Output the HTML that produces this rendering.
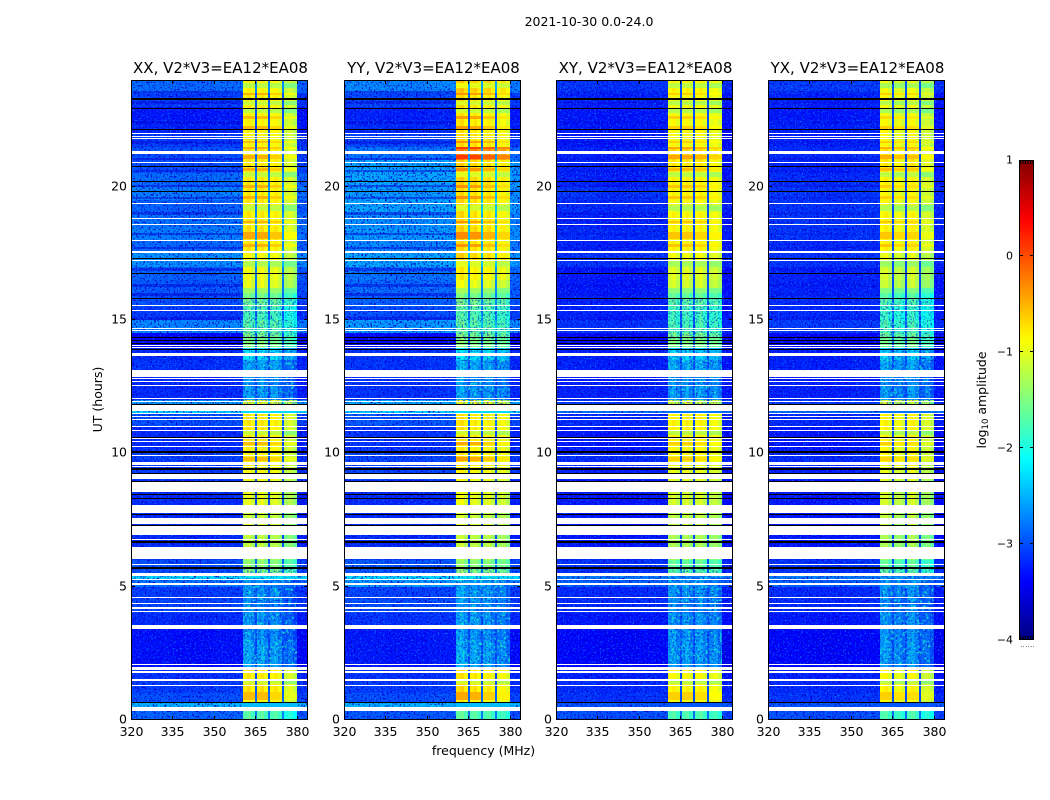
<!DOCTYPE html>
<html lang="en">
<head>
<meta charset="utf-8">
<title>2021-10-30 0.0-24.0 amplitude waterfall</title>
<style>
html,body{margin:0;padding:0;background:#fff;width:1050px;height:800px;overflow:hidden}
svg{display:block}
text{font-family:"DejaVu Sans","Liberation Sans",sans-serif;fill:#000}
</style>
</head>
<body>
<svg id="fig" xmlns="http://www.w3.org/2000/svg" width="1050" height="800" viewBox="0 0 1050 800">
  <defs>
    <filter id="speck-dark" x="0" y="0" width="100%" height="100%" color-interpolation-filters="sRGB">
      <feTurbulence type="fractalNoise" baseFrequency="0.55" numOctaves="2" seed="4"/>
      <feColorMatrix type="matrix" values="0 0 0 0 0  0 0 0 0 0  0 0 0 0 0.8  5 0 0 0 -2.6"/>
    </filter>
    <filter id="speck-light" x="0" y="0" width="100%" height="100%" color-interpolation-filters="sRGB">
      <feTurbulence type="fractalNoise" baseFrequency="0.6" numOctaves="2" seed="11"/>
      <feColorMatrix type="matrix" values="0 0 0 0 0.05  0 0 0 0 0.55  0 0 0 0 1  0 5 0 0 -2.85"/>
    </filter>
    <filter id="speck-cyan" x="0" y="0" width="100%" height="100%" color-interpolation-filters="sRGB">
      <feTurbulence type="fractalNoise" baseFrequency="0.35" numOctaves="2" seed="23"/>
      <feColorMatrix type="matrix" values="0 0 0 0 0.1  0 0 0 0 0.95  0 0 0 0 0.8  0 0 5 0 -2.6"/>
    </filter>
    <linearGradient id="jet-gradient" x1="0" y1="1" x2="0" y2="0"></linearGradient>
  </defs>
  <text x="589" y="26" font-size="12.5" text-anchor="middle">2021-10-30 0.0-24.0</text>
  <text x="483.5" y="755" font-size="12.5" text-anchor="middle">frequency (MHz)</text>
  <text transform="translate(102,399.5) rotate(-90)" font-size="12.5" text-anchor="middle">UT (hours)</text>
  <text transform="translate(986,400) rotate(-90)" font-size="12.5" text-anchor="middle">log<tspan font-size="8.5" dy="2">10</tspan><tspan dy="-2"> amplitude</tspan></text>
  <g id="panels"></g>
  <g id="colorbar"></g>
</svg>
<script>
// ---- chart data: half-hour time bins from 0 UT upward, values in log10 amplitude ----
const panelNames = ['XX', 'YY', 'XY', 'YX'];
const baselineLabel = 'V2*V3=EA12*EA08';
const xTickLabels = [320, 335, 350, 365, 380];
const yTickLabels = [0, 5, 10, 15, 20];
const colorbarTickLabels = [-4, -3, -2, -1, 0, 1];

const lowXX = [-2.9,-3.0,-3.1,-3.15,-3.35,-3.35,-3.35,-3.2,-3.05,-3.1,-2.8,-3.0,-3.1,-3.2,-3.2,-3.2,-3.2,-3.2,-3.1,-3.1,-3.2,-3.2,-3.0,-2.6,-3.2,-3.2,-3.15,-3.2,-3.4,-2.7,-3.1,-3.0,-2.95,-2.9,-2.65,-2.85,-2.75,-2.8,-2.9,-2.75,-2.85,-3.0,-3.0,-3.1,-3.25,-3.3,-3.1,-2.85];
const lowYY = [-2.95,-3.0,-3.1,-3.15,-3.3,-3.3,-3.3,-3.15,-3.0,-3.05,-2.6,-2.95,-3.1,-3.2,-3.2,-3.2,-3.2,-3.2,-3.05,-3.05,-3.15,-3.15,-2.95,-2.5,-3.15,-3.15,-3.15,-3.15,-3.4,-2.6,-3.0,-2.9,-2.85,-2.8,-2.55,-2.7,-2.6,-2.65,-2.55,-2.6,-2.55,-2.55,-2.8,-3.05,-3.2,-3.25,-3.05,-2.7];
const lowXY = [-3.0,-3.15,-3.2,-3.25,-3.4,-3.4,-3.4,-3.3,-3.2,-3.2,-2.9,-3.15,-3.2,-3.3,-3.3,-3.3,-3.3,-3.3,-3.25,-3.2,-3.3,-3.3,-3.2,-3.1,-3.25,-3.25,-3.25,-3.25,-3.4,-3.15,-3.25,-3.25,-3.3,-3.3,-3.15,-3.25,-3.2,-3.25,-3.2,-3.15,-3.25,-3.25,-3.25,-3.3,-3.3,-3.3,-3.25,-3.15];
const lowYX = [-3.0,-3.15,-3.2,-3.25,-3.4,-3.4,-3.4,-3.3,-3.2,-3.2,-2.9,-3.15,-3.2,-3.3,-3.3,-3.3,-3.3,-3.3,-3.25,-3.2,-3.3,-3.3,-3.2,-3.1,-3.25,-3.25,-3.25,-3.25,-3.4,-3.1,-3.2,-3.2,-3.25,-3.25,-3.15,-3.2,-3.15,-3.15,-3.15,-3.15,-3.2,-3.25,-3.2,-3.25,-3.25,-3.3,-3.25,-3.1];

const bandXX = [-1.75,-0.9,-0.8,-0.85,-2.6,-2.6,-2.7,-2.7,-2.75,-2.7,-2.7,-1.5,-1.35,-1.25,-1.15,-1.2,-1.05,-1.05,-0.95,-0.9,-0.9,-0.85,-0.85,-1.0,-2.65,-2.7,-2.6,-2.3,-1.55,-1.7,-1.8,-1.6,-1.05,-1.0,-0.95,-0.85,-0.8,-0.85,-0.85,-0.85,-0.85,-0.85,-0.85,-0.9,-0.9,-0.9,-0.85,-0.9];
const bandYY = [-1.75,-0.9,-0.8,-0.85,-2.6,-2.6,-2.7,-2.65,-2.7,-2.65,-2.65,-1.5,-1.35,-1.25,-1.15,-1.2,-1.05,-1.05,-0.95,-0.85,-0.9,-0.85,-0.85,-1.0,-2.65,-2.7,-2.6,-2.3,-1.55,-1.7,-1.75,-1.6,-1.05,-0.9,-0.75,-0.8,-0.75,-0.8,-0.8,-0.8,-0.75,-0.75,-0.35,-0.8,-0.85,-0.85,-0.8,-0.7];
const bandXY = [-1.8,-0.95,-0.9,-0.95,-2.65,-2.65,-2.7,-2.7,-2.75,-2.7,-2.7,-1.7,-1.45,-1.35,-1.25,-1.25,-1.15,-1.15,-1.05,-0.95,-0.95,-0.9,-0.9,-1.1,-2.65,-2.7,-2.6,-2.4,-1.55,-1.8,-1.85,-1.7,-1.15,-1.1,-1.0,-0.9,-0.9,-0.9,-0.95,-0.9,-0.9,-0.85,-0.75,-0.95,-0.95,-0.95,-0.95,-0.9];
const bandYX = [-1.8,-0.95,-0.9,-0.95,-2.65,-2.65,-2.7,-2.7,-2.75,-2.7,-2.7,-1.7,-1.45,-1.35,-1.25,-1.25,-1.15,-1.15,-1.05,-0.95,-0.95,-0.9,-0.9,-1.1,-2.65,-2.7,-2.6,-2.4,-1.6,-1.8,-1.9,-1.75,-1.2,-1.15,-1.05,-0.9,-0.9,-0.9,-0.95,-0.95,-0.9,-0.85,-0.8,-0.95,-0.95,-1.0,-0.95,-1.0];

const windowOffsetXX = [0.05, 0.05, 0.0, -0.25];
const windowOffsetYY = [0.1, 0.05, 0.0, -0.1];
const windowOffsetXY = [0.05, 0.05, 0.05, -0.05];
const windowOffsetYX = [0.05, -0.05, 0.05, -0.2];

// amplitude increase of hot UT stripes inside the spectral windows, per panel and window
const hotGain = [0.3, 0.35, 0.25, 0.25];
const hotWindowScale = [1, 1, 0.7, 0.5];
const hotHours = [[0.75,1.05],[9.7,9.85],[10.3,10.45],[18.05,18.3],[17.72,17.85],[18.65,18.73],[19.55,19.66],[19.95,20.05],[20.6,20.7],[21.05,21.18],[21.4,21.47],[21.65,21.72],[22.18,22.28],[22.55,22.65],[23.45,23.52]];
const coolDrop = 0.35;
const coolHours = [[1.35,1.45],[10.7,10.85],[16.0,16.2],[17.0,17.2],[19.1,19.3],[20.35,20.55],[22.75,22.9],[23.05,23.2],[23.7,23.9]];

// rows where the whole band (all frequencies) is raised, [start, end, level] for XX/YY
const wideRows = [[0.5,0.63,-2.45],[5.29,5.4,-2.25],[11.5,11.6,-2.3]];
const wideRowCrossDrop = 0.5;

// UT ranges where the windows are weak and speckled
const speckledBandHours = [[2.1,5.67],[11.86,13.88],[14.3,15.8]];

// frequency channels in MHz: low band, four spectral windows with gaps, upper band
const lowBandEdges = [320, 335, 350, 360.4];
const lowBandOffsets = [0.03, 0.0, 0.03];
const windowStarts = [360.4, 365.4, 370.4, 375.4];
const windowEnds = [364.8, 369.7, 374.7, 379.9];
const channelOffsets = [-0.02, 0.06, -0.12];
const upperBand = [379.9, 384];

// flagged (blank) UT intervals, hours
const flaggedHours = [[0.35,0.5],[1.29,1.33],[1.48,1.52],[1.78,1.82],[1.86,2.0],[2.06,2.1],[3.41,3.56],[4.04,4.08],[4.18,4.22],[4.36,4.4],[4.56,4.6],[5.08,5.12],[5.25,5.29],[5.4,5.52],[5.8,5.84],[6.05,6.47],[6.75,6.79],[6.92,7.27],[7.35,7.57],[7.77,8.06],[8.56,8.93],[9.03,9.22],[9.5,9.54],[9.58,9.62],[9.64,9.68],[9.89,9.93],[10.23,10.27],[10.42,10.46],[10.52,10.56],[10.85,10.89],[10.97,11.01],[11.25,11.29],[11.36,11.4],[11.46,11.5],[11.6,11.81],[11.92,11.96],[12.02,12.06],[12.54,12.58],[12.67,12.71],[12.79,12.83],[12.85,13.13],[13.65,13.75],[13.95,13.99],[14.02,14.06],[14.6,14.64],[14.67,14.7],[15.34,15.38],[15.54,15.58],[17.22,17.26],[17.52,17.58],[17.97,18.01],[18.57,18.61],[18.78,18.82],[19.36,19.4],[20.88,20.92],[21.22,21.32],[21.77,21.81],[21.87,21.91],[21.98,22.02]];

// dropped-out (zero amplitude, black) UT intervals, hours
const blackHours = [[0.63,0.67],[5.67,5.73],[6.62,6.7],[7.28,7.33],[7.67,7.73],[8.3,8.34],[8.45,8.49],[8.94,8.98],[9.23,9.27],[9.38,9.44],[10.0,10.07],[10.58,10.62],[11.82,11.86],[13.88,13.92],[14.09,14.13],[14.22,14.26],[14.34,14.38],[15.79,15.84],[16.73,16.77],[17.29,17.34],[19.79,19.83],[20.17,20.21],[20.74,20.78],[22.11,22.15],[22.92,22.96],[23.26,23.34]];

// dim stripes across the low band, UT hours
const dimHours = [[15.0,15.1],[15.9,16.0],[16.25,16.35],[16.85,16.95],[17.65,17.72],[18.2,18.28],[18.95,19.05],[19.55,19.62],[20.0,20.08],[20.55,20.62],[21.0,21.08],[21.6,21.7],[22.35,22.45],[23.1,23.2],[23.5,23.6]];

// ---- layout ----
const panelLefts = [131, 344, 556, 768];
const panelWidth = 177;
const plotTop = 80;
const plotBottom = 720;
const cbLeft = 1019;
const cbRight = 1034;
const cbTop = 160;
const cbBottom = 640;
const SVGNS = 'http://www.w3.org/2000/svg';

const lowByPanel = [lowXX, lowYY, lowXY, lowYX];
const bandByPanel = [bandXX, bandYY, bandXY, bandYX];
const windowOffsetByPanel = [windowOffsetXX, windowOffsetYY, windowOffsetXY, windowOffsetYX];

function xScale(left, mhz) { return left + (mhz - 320) * panelWidth / 64; }
function yScale(hour) { return plotBottom - hour * (plotBottom - plotTop) / 24; }
function cbScale(level) { return cbBottom - (level + 4) * (cbBottom - cbTop) / 5; }

function clamp01(v) { return Math.max(0, Math.min(1, v)); }
function jet(t) {
  const r = clamp01(Math.min(4 * t - 1.5, -4 * t + 4.5));
  const g = clamp01(Math.min(4 * t - 0.5, -4 * t + 3.5));
  const b = clamp01(Math.min(4 * t + 0.5, -4 * t + 2.5));
  return 'rgb(' + Math.round(r * 255) + ',' + Math.round(g * 255) + ',' + Math.round(b * 255) + ')';
}
function levelColor(level) { return jet((level + 4) / 5); }

function makeRect(parent, x, y, w, h, fill) {
  const r = document.createElementNS(SVGNS, 'rect');
  r.setAttribute('x', x);
  r.setAttribute('y', y);
  r.setAttribute('width', w);
  r.setAttribute('height', h);
  r.setAttribute('fill', fill);
  parent.appendChild(r);
  return r;
}
function makeRowRect(parent, left, startHour, endHour, fill) {
  const y0 = Math.round(yScale(endHour));
  const h = Math.max(1, Math.round(yScale(startHour)) - y0);
  return makeRect(parent, left, y0, panelWidth, h, fill);
}
function makeLine(parent, x1, y1, x2, y2) {
  const l = document.createElementNS(SVGNS, 'line');
  l.setAttribute('x1', x1);
  l.setAttribute('y1', y1);
  l.setAttribute('x2', x2);
  l.setAttribute('y2', y2);
  l.setAttribute('stroke', '#000');
  l.setAttribute('stroke-width', '1');
  l.setAttribute('shape-rendering', 'crispEdges');
  parent.appendChild(l);
  return l;
}
function makeText(parent, x, y, str, size, anchor) {
  const t = document.createElementNS(SVGNS, 'text');
  t.setAttribute('x', x);
  t.setAttribute('y', y);
  t.setAttribute('font-size', size);
  t.setAttribute('text-anchor', anchor);
  t.textContent = str;
  parent.appendChild(t);
  return t;
}
function minusLabel(v) { return v < 0 ? '\u2212' + Math.abs(v) : String(v); }

function drawCell(group, left, f0, f1, h0, h1, level) {
  const x0 = Math.round(xScale(left, f0));
  const x1 = Math.round(xScale(left, f1));
  const y0 = Math.round(yScale(h1));
  const y1 = Math.round(yScale(h0));
  const cell = makeRect(group, x0, y0, x1 - x0, Math.max(1, y1 - y0), levelColor(level));
  
  
}

const panelsRoot = document.getElementById('panels');

panelNames.forEach(function (name, p) {
  const left = panelLefts[p];
  const right = left + panelWidth;
  const low = lowByPanel[p];
  const band = bandByPanel[p];
  const winOff = windowOffsetByPanel[p];

  const g = document.createElementNS(SVGNS, 'g');
  
  
  panelsRoot.appendChild(g);

  const cells = document.createElementNS(SVGNS, 'g');
  
  
  cells.setAttribute('shape-rendering', 'crispEdges');
  g.appendChild(cells);

  low.forEach(function (lowLevel, i) {
    const h0 = i * 0.5;
    const h1 = h0 + 0.5;
    lowBandOffsets.forEach(function (off, c) {
      drawCell(cells, left, lowBandEdges[c], lowBandEdges[c + 1], h0, h1, lowLevel + off);
    });
    windowStarts.forEach(function (fs, w) {
      const fe = windowEnds[w];
      const step = (fe - fs) / channelOffsets.length;
      channelOffsets.forEach(function (off, c) {
        drawCell(cells, left, fs + c * step, fs + (c + 1) * step, h0, h1, band[i] + winOff[w] + off);
      });
      if (w < windowStarts.length - 1) {
        drawCell(cells, left, fe, windowStarts[w + 1], h0, h1, Math.max(lowLevel + 0.15, -3.0));
      }
    });
    drawCell(cells, left, upperBand[0], upperBand[1], h0, h1, lowLevel - 0.05);
  });

  hotHours.forEach(function (iv) {
    const bin = Math.floor(iv[0] / 0.5);
    windowStarts.forEach(function (fs, w) {
      drawCell(cells, left, fs, windowEnds[w], iv[0], iv[1], band[bin] + winOff[w] + hotGain[p] * hotWindowScale[w]);
    });
  });
  coolHours.forEach(function (iv) {
    const bin = Math.floor(iv[0] / 0.5);
    windowStarts.forEach(function (fs, w) {
      drawCell(cells, left, fs, windowEnds[w], iv[0], iv[1], band[bin] + winOff[w] - coolDrop);
    });
  });
  wideRows.forEach(function (row) {
    const level = p < 2 ? row[2] : row[2] - wideRowCrossDrop;
    drawCell(cells, left, 320, 384, row[0], row[1], level);
  });

  const dims = document.createElementNS(SVGNS, 'g');
  
  
  dims.setAttribute('shape-rendering', 'crispEdges');
  g.appendChild(dims);
  dimHours.forEach(function (iv) {
    const y = Math.round(yScale(iv[1]));
    const x1 = Math.round(xScale(left, lowBandEdges[lowBandEdges.length - 1]));
    const stripe = makeRect(dims, left, y, x1 - left, Math.max(1, Math.round(yScale(iv[0])) - y), '#0000d8');
    stripe.setAttribute('opacity', p < 2 ? '0.5' : '0.25');
    
    
  });

  const lowEnd = Math.round(xScale(left, lowBandEdges[lowBandEdges.length - 1]));
  const upStart = Math.round(xScale(left, upperBand[0]));

  const darkLow = makeRect(g, left, plotTop, lowEnd - left, plotBottom - plotTop, '#000');
  darkLow.setAttribute('filter', 'url(#speck-dark)');
  
  
  const lightLow = makeRect(g, left, plotTop, lowEnd - left, plotBottom - plotTop, '#000');
  lightLow.setAttribute('filter', 'url(#speck-light)');
  lightLow.setAttribute('opacity', '0.7');
  
  

  const darkUp = makeRect(g, upStart, plotTop, right - upStart, plotBottom - plotTop, '#000');
  darkUp.setAttribute('filter', 'url(#speck-dark)');
  
  
  const lightUp = makeRect(g, upStart, plotTop, right - upStart, plotBottom - plotTop, '#000');
  lightUp.setAttribute('filter', 'url(#speck-light)');
  lightUp.setAttribute('opacity', '0.7');
  
  

  speckledBandHours.forEach(function (iv) {
    const y0 = Math.round(yScale(iv[1]));
    const h = Math.round(yScale(iv[0])) - y0;
    const cyan = makeRect(g, lowEnd, y0, upStart - lowEnd, h, '#000');
    cyan.setAttribute('filter', 'url(#speck-cyan)');
    cyan.setAttribute('opacity', '0.75');
    
    
    const dark = makeRect(g, lowEnd, y0, upStart - lowEnd, h, '#000');
    dark.setAttribute('filter', 'url(#speck-dark)');
    dark.setAttribute('opacity', '0.6');
    
    
  });

  const flags = document.createElementNS(SVGNS, 'g');
  
  
  flags.setAttribute('shape-rendering', 'crispEdges');
  g.appendChild(flags);
  flaggedHours.forEach(function (iv) {
    const row = makeRowRect(flags, left, iv[0], iv[1], '#fff');
    
    
  });

  const blacks = document.createElementNS(SVGNS, 'g');
  
  
  blacks.setAttribute('shape-rendering', 'crispEdges');
  g.appendChild(blacks);
  blackHours.forEach(function (iv) {
    const row = makeRowRect(blacks, left, iv[0], iv[1], '#000');
    
    
  });

  const frame = document.createElementNS(SVGNS, 'rect');
  frame.setAttribute('x', left + 0.5);
  frame.setAttribute('y', plotTop + 0.5);
  frame.setAttribute('width', panelWidth - 1);
  frame.setAttribute('height', plotBottom - plotTop - 1);
  frame.setAttribute('fill', 'none');
  frame.setAttribute('stroke', '#000');
  frame.setAttribute('stroke-width', '1');
  
  
  g.appendChild(frame);

  const title = makeText(g, left + panelWidth / 2 + 1, 73, name + ', ' + baselineLabel, 15, 'middle');
  
  

  xTickLabels.forEach(function (f) {
    const x = Math.round(xScale(left, f)) + 0.5;
    const tb = makeLine(g, x, plotBottom, x, plotBottom - 4);
    
    
    const tt = makeLine(g, x, plotTop, x, plotTop + 4);
    
    
    const lab = makeText(g, x, 736, String(f), 12.5, 'middle');
    
    
  });

  yTickLabels.forEach(function (h) {
    const y = Math.round(yScale(h)) - 0.5;
    const tl = makeLine(g, left, y, left + 4, y);
    
    
    const tr = makeLine(g, right, y, right - 4, y);
    
    
    const lab = makeText(g, left - 4, y + 4, String(h), 12.5, 'end');
    
    
  });
});

// ---- colorbar ----
const grad = document.getElementById('jet-gradient');
for (let s = 0; s <= 50; s++) {
  const stop = document.createElementNS(SVGNS, 'stop');
  stop.setAttribute('offset', (s * 2) + '%');
  stop.setAttribute('stop-color', jet(s / 50));
  grad.appendChild(stop);
}
const cb = document.getElementById('colorbar');
const cbRect = makeRect(cb, cbLeft, cbTop, cbRight - cbLeft, cbBottom - cbTop, 'url(#jet-gradient)');



const cbFrame = document.createElementNS(SVGNS, 'rect');
cbFrame.setAttribute('x', cbLeft + 0.5);
cbFrame.setAttribute('y', cbTop + 0.5);
cbFrame.setAttribute('width', cbRight - cbLeft - 1);
cbFrame.setAttribute('height', cbBottom - cbTop - 1);
cbFrame.setAttribute('fill', 'none');
cbFrame.setAttribute('stroke', '#000');


cb.appendChild(cbFrame);

colorbarTickLabels.forEach(function (v) {
  const y = Math.round(cbScale(v)) - 0.5;
  if (v > -4 && v < 1) {
    const a = makeLine(cb, cbLeft, y, cbLeft + 4, y);
    
    
    const b = makeLine(cb, cbRight, y, cbRight - 4, y);
    
    
  }
  const lab = makeText(cb, cbLeft - 6, y + 4, minusLabel(v), 11, 'end');
  
  
});

for (let k = 0; k < 6; k++) {
  const x = cbLeft + 1.5 + k * 2.5;
  const top = makeLine(cb, x, cbTop, x, cbTop + 4);
  
  
  const bot = makeLine(cb, x, cbBottom, x, cbBottom - 4);
  
  
  const dot = makeRect(cb, Math.round(x), 646, 1, 1, '#888');
  
  
}
</script>
</body>
</html>
